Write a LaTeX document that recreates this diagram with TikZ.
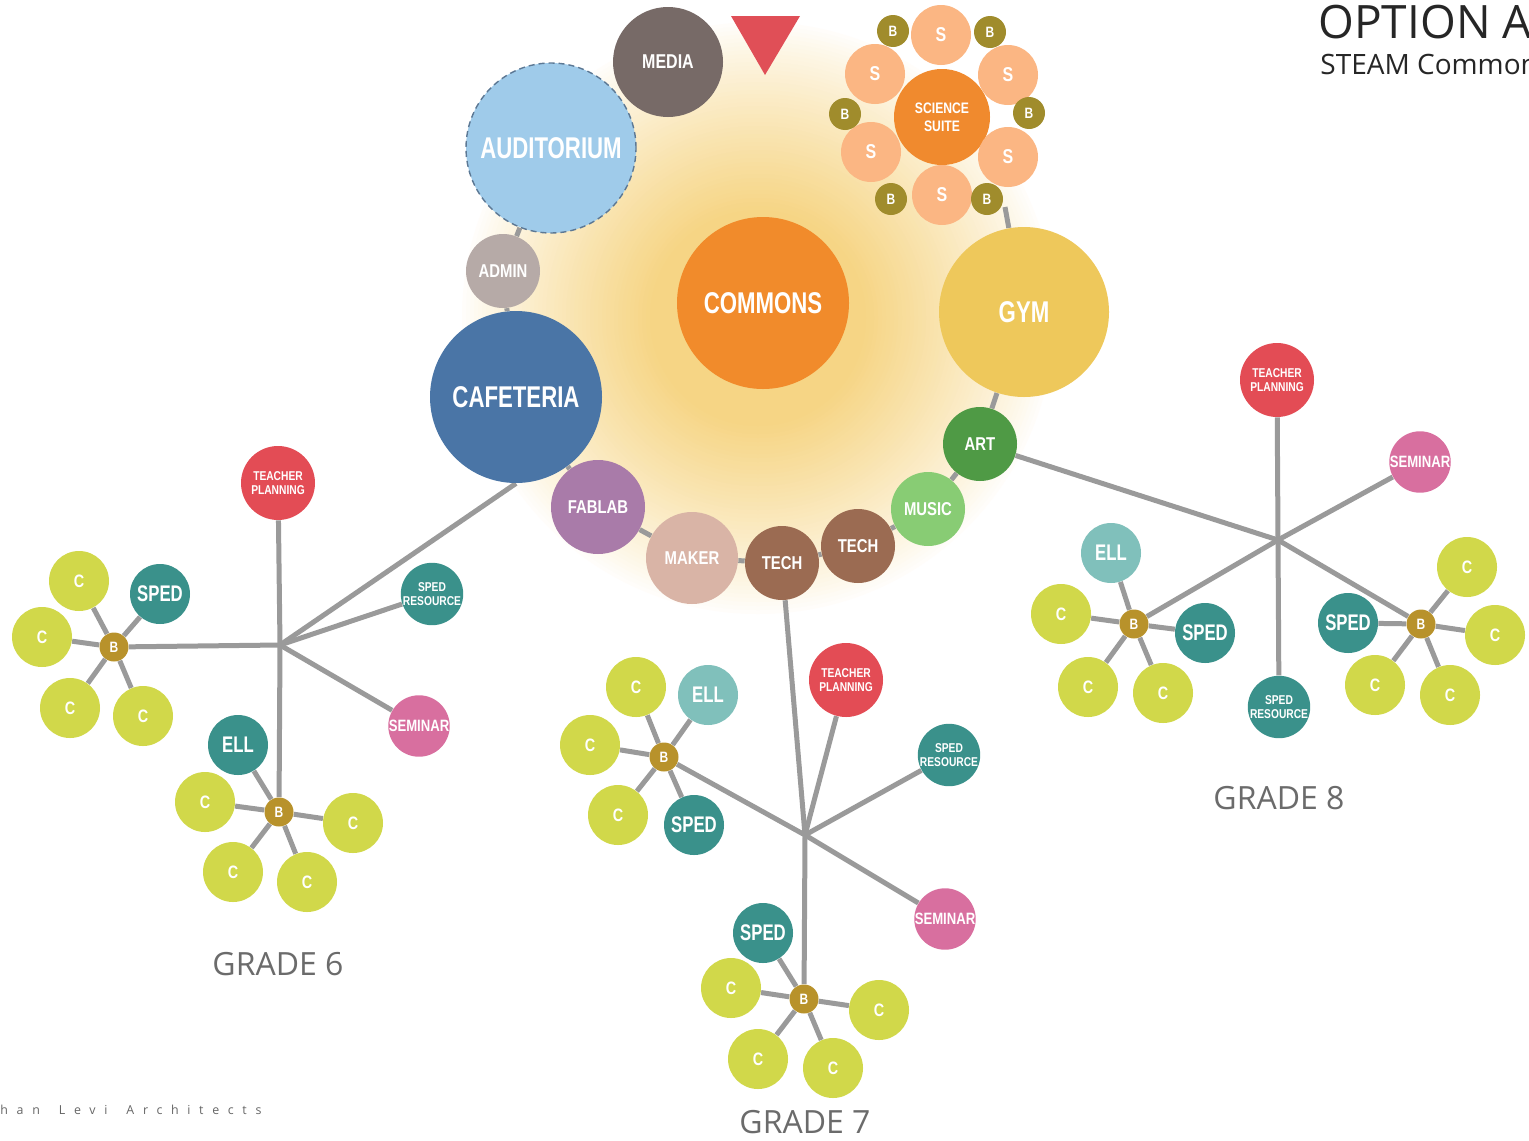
\documentclass[tikz,border=0pt]{standalone}
\usepackage{fontspec}
\setmainfont{Open Sans}
\newfontfamily\lab[FakeStretch=0.8]{Liberation Sans}
\newfontfamily\labc[FakeStretch=0.74]{Liberation Sans}
\newfontfamily\footf[LetterSpace=70,WordSpace=1.6]{Open Sans}
\usetikzlibrary{backgrounds}
\definecolor{cMedia}{HTML}{776A67}
\definecolor{cTri}{HTML}{E04F57}
\definecolor{cAud}{HTML}{9FCBEA}
\definecolor{cAudB}{HTML}{5C7894}
\definecolor{cAdmin}{HTML}{B6AAA7}
\definecolor{cCafe}{HTML}{4A75A6}
\definecolor{cCommons}{HTML}{F18B2B}
\definecolor{cSci}{HTML}{F08A2E}
\definecolor{cS}{HTML}{FBB683}
\definecolor{cSB}{HTML}{A08C2C}
\definecolor{cGym}{HTML}{EEC85B}
\definecolor{cArt}{HTML}{4F9A45}
\definecolor{cMusic}{HTML}{88CC74}
\definecolor{cTech}{HTML}{9B6B52}
\definecolor{cMaker}{HTML}{D9B4A6}
\definecolor{cFab}{HTML}{A97BA9}
\definecolor{cTP}{HTML}{E34C55}
\definecolor{cTeal}{HTML}{3A918B}
\definecolor{cEll}{HTML}{80C0BB}
\definecolor{cSem}{HTML}{D86F9F}
\definecolor{cC}{HTML}{D1D84A}
\definecolor{cB}{HTML}{B8922B}
\definecolor{cLine}{HTML}{9A9A9A}
\definecolor{cGrade}{HTML}{6B6B6B}
\definecolor{glowA}{HTML}{F6D585}
\begin{document}
\begin{tikzpicture}[x=0.5pt,y=-0.5pt,
  bub/.style={circle,inner sep=0pt,minimum size=#1pt,text=white,align=center},
  big/.style={font=\labc\bfseries\fontsize{15}{16}\selectfont},
  mid/.style={font=\lab\bfseries\fontsize{9.3}{10}\selectfont},
  let/.style={font=\lab\bfseries\fontsize{9}{10}\selectfont},
  sletter/.style={font=\lab\bfseries\fontsize{10}{10}\selectfont},
  bletter/.style={font=\lab\bfseries\fontsize{7.5}{8}\selectfont},
  tiny/.style={font=\lab\bfseries\fontsize{6.4}{7}\selectfont},
  sem/.style={font=\lab\bfseries\fontsize{8.2}{9}\selectfont},
  spedf/.style={font=\labc\bfseries\fontsize{11.3}{12}\selectfont},
  link/.style={draw=cLine,line width=2.5pt},
  grade/.style={font=\fontsize{16}{16}\selectfont,text=cGrade}]
\useasboundingbox (0,0) rectangle (1529,1140);

% ---- central cluster
\node[bub=55,fill=cMedia,font=\lab\bfseries\fontsize{10}{10}\selectfont] (media) at (668,62) {MEDIA};
\fill[cTri] (731,16) -- (800,16) -- (765,75) -- cycle;
\node[bub=85,fill=cAud,draw=cAudB,dashed,dash pattern=on 3pt off 2pt,line width=0.7pt,big] (aud) at (551,148) {AUDITORIUM};
\node[bub=37,fill=cAdmin,mid] (admin) at (503,271) {ADMIN};
\node[bub=86,fill=cCafe,big] (cafe) at (516,397) {CAFETERIA};
\node[bub=86,fill=cCommons,big] (commons) at (763,303) {COMMONS};
\node[bub=85,fill=cGym,big] (gym) at (1024,312) {GYM};
\node[bub=37,fill=cArt,mid] (art) at (980,444) {ART};
\node[bub=37,fill=cMusic,mid] (music) at (928,509) {MUSIC};
\node[bub=37,fill=cTech,mid] (tech2) at (858,546) {TECH};
\node[bub=37,fill=cTech,mid] (tech1) at (782,563) {TECH};
\node[bub=46,fill=cMaker,mid] (maker) at (692,558) {MAKER};
\node[bub=47,fill=cFab,mid] (fablab) at (598,507) {FABLAB};

% ---- science suite
\node[bub=48,fill=cSci,font=\lab\bfseries\fontsize{7.6}{9}\selectfont] (sci) at (942,117) {SCIENCE\\SUITE};
\node[bub=30,fill=cS,sletter] (s1) at (941,35) {S};
\node[bub=30,fill=cS,sletter] (s2) at (1008,75) {S};
\node[bub=30,fill=cS,sletter] (s3) at (1008,157) {S};
\node[bub=30,fill=cS,sletter] (s4) at (942,195) {S};
\node[bub=30,fill=cS,sletter] (s5) at (871,152) {S};
\node[bub=30,fill=cS,sletter] (s6) at (875,74) {S};
\node[bub=16,fill=cSB,bletter] (sb1) at (893,31) {B};
\node[bub=16,fill=cSB,bletter] (sb2) at (990,32) {B};
\node[bub=16,fill=cSB,bletter] (sb3) at (1029,113) {B};
\node[bub=16,fill=cSB,bletter] (sb4) at (987,199) {B};
\node[bub=16,fill=cSB,bletter] (sb5) at (891,199) {B};
\node[bub=16,fill=cSB,bletter] (sb6) at (845,114) {B};
\coordinate (sg) at (1005,207);

% ---- grade 6
\coordinate (h6) at (280,645);
\node[bub=37,fill=cTP,tiny] (tp6) at (278,483) {TEACHER\\PLANNING};
\node[bub=30,fill=cTeal,tiny] (sr6) at (432,594) {SPED\\RESOURCE};
\node[bub=29.5,fill=cSem,sem] (sem6) at (419,726) {SEMINAR};
\node[bub=30,fill=cTeal,spedf] (sped6) at (160,594) {SPED};
\node[bub=30,fill=cC,let] (c6a) at (79,581) {C};
\node[bub=30,fill=cC,let] (c6b) at (42,637) {C};
\node[bub=30,fill=cC,let] (c6c) at (70,708) {C};
\node[bub=30,fill=cC,let] (c6d) at (143,716) {C};
\node[bub=14.5,fill=cB,bletter] (b6a) at (114,647) {B};
\node[bub=30,fill=cTeal,spedf] (ell6) at (238,745) {ELL};
\node[bub=30,fill=cC,let] (c6e) at (205,802) {C};
\node[bub=30,fill=cC,let] (c6f) at (353,823) {C};
\node[bub=30,fill=cC,let] (c6g) at (233,872) {C};
\node[bub=30,fill=cC,let] (c6h) at (307,882) {C};
\node[bub=14.5,fill=cB,bletter] (b6b) at (279,812) {B};
\node[grade] (g6) at (278,964) {GRADE 6};

% ---- grade 7
\coordinate (h7) at (805,835);
\node[bub=37,fill=cTP,tiny] (tp7) at (846,680) {TEACHER\\PLANNING};
\node[bub=30,fill=cTeal,tiny] (sr7) at (949,755) {SPED\\RESOURCE};
\node[bub=30,fill=cSem,sem] (sem7) at (945,919) {SEMINAR};
\node[bub=30,fill=cEll,spedf] (ell7) at (708,695) {ELL};
\node[bub=30,fill=cTeal,spedf] (sped7) at (694,825) {SPED};
\node[bub=30,fill=cC,let] (c7a) at (636,687) {C};
\node[bub=30,fill=cC,let] (c7b) at (590,745) {C};
\node[bub=30,fill=cC,let] (c7c) at (618,815) {C};
\node[bub=14.5,fill=cB,bletter] (b7a) at (664,757) {B};
\node[bub=30,fill=cTeal,spedf] (sped7b) at (763,933) {SPED};
\node[bub=30,fill=cC,let] (c7d) at (731,988) {C};
\node[bub=30,fill=cC,let] (c7e) at (879,1010) {C};
\node[bub=30,fill=cC,let] (c7f) at (758,1059) {C};
\node[bub=30,fill=cC,let] (c7g) at (833,1068) {C};
\node[bub=14.5,fill=cB,bletter] (b7b) at (804,999) {B};
\node[grade] (g7) at (805,1122) {GRADE 7};

% ---- grade 8
\coordinate (h8) at (1278,540);
\node[bub=37,fill=cTP,tiny] (tp8) at (1277,380) {TEACHER\\PLANNING};
\node[bub=30,fill=cSem,sem] (sem8) at (1420,462) {SEMINAR};
\node[bub=30,fill=cTeal,tiny] (sr8) at (1279,707) {SPED\\RESOURCE};
\node[bub=30,fill=cEll,spedf] (ell8) at (1111,553) {ELL};
\node[bub=30,fill=cTeal,spedf] (sped8) at (1205,633) {SPED};
\node[bub=30,fill=cC,let] (c8a) at (1061,614) {C};
\node[bub=30,fill=cC,let] (c8b) at (1088,687) {C};
\node[bub=30,fill=cC,let] (c8c) at (1163,693) {C};
\node[bub=14.5,fill=cB,bletter] (b8a) at (1134,624) {B};
\node[bub=30,fill=cTeal,spedf] (sped8b) at (1348,623) {SPED};
\node[bub=30,fill=cC,let] (c8d) at (1467,567) {C};
\node[bub=30,fill=cC,let] (c8e) at (1495,635) {C};
\node[bub=30,fill=cC,let] (c8f) at (1375,685) {C};
\node[bub=30,fill=cC,let] (c8g) at (1450,695) {C};
\node[bub=14.5,fill=cB,bletter] (b8b) at (1421,624) {B};
\node[grade] (g8) at (1279,798) {GRADE 8};

% ---- titles
\node[anchor=base west,inner sep=0pt,font=\fontsize{23}{23}\selectfont,text=black!85] (t1) at (1318,38) {OPTION A};
\node[anchor=base west,inner sep=0pt,font=\fontsize{14}{14}\selectfont,text=black!85] (t2) at (1320,74) {STEAM Common};
\node[anchor=base west,inner sep=0pt,font=\footf\fontsize{6.2}{6}\selectfont,text=black!60] (foot) at (0,1114) {han Levi Architects};

% ---- background: glow and links
\begin{pgfonlayer}{background}
\foreach \i in {0,...,48} {
  \pgfmathsetmacro\rr{300-\i*4}
  \pgfmathsetmacro\pc{100*(\i/48)^0.85}
  \fill[glowA!\pc!white] (758,318) circle[radius=\rr];
}
\draw[link] (aud) -- (admin) -- (cafe) -- (fablab) -- (maker) -- (tech1) -- (tech2) -- (music) -- (art) -- (gym) -- (sg);
% grade 6
\draw[link] (h6) -- (cafe.south);
\draw[link] (h6) -- (tp6);
\draw[link] (h6) -- (sr6);
\draw[link] (h6) -- (sem6);
\draw[link] (h6) -- (b6a);
\draw[link] (h6) -- (b6b);
\foreach \n in {sped6,c6a,c6b,c6c,c6d} \draw[link] (b6a) -- (\n);
\foreach \n in {ell6,c6e,c6f,c6g,c6h} \draw[link] (b6b) -- (\n);
% grade 7
\draw[link] (h7) -- (tech1);
\draw[link] (h7) -- (tp7);
\draw[link] (h7) -- (sr7);
\draw[link] (h7) -- (sem7);
\draw[link] (h7) -- (b7a);
\draw[link] (h7) -- (b7b);
\foreach \n in {ell7,sped7,c7a,c7b,c7c} \draw[link] (b7a) -- (\n);
\foreach \n in {sped7b,c7d,c7e,c7f,c7g} \draw[link] (b7b) -- (\n);
% grade 8
\draw[link] (h8) -- (art);
\draw[link] (h8) -- (tp8);
\draw[link] (h8) -- (sem8);
\draw[link] (h8) -- (sr8);
\draw[link] (h8) -- (b8a);
\draw[link] (h8) -- (b8b);
\foreach \n in {ell8,sped8,c8a,c8b,c8c} \draw[link] (b8a) -- (\n);
\foreach \n in {sped8b,c8d,c8e,c8f,c8g} \draw[link] (b8b) -- (\n);
\end{pgfonlayer}
\end{tikzpicture}
\end{document}
